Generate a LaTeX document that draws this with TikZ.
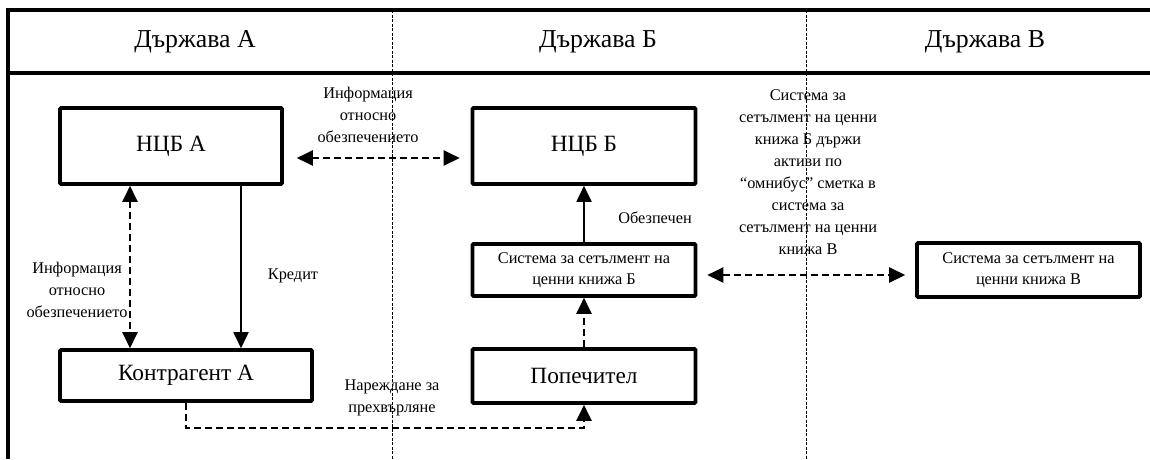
\documentclass[tikz,border=0pt]{standalone}
\usepackage{fontspec}
\setmainfont{Liberation Serif}
\usetikzlibrary{arrows.meta}
\begin{document}
\begin{tikzpicture}[x=1pt,y=-1pt,
  frame/.style={line width=4.2pt},
  sep/.style={line width=0.8pt,dash pattern=on 3pt off 1.5pt},
  box/.style={draw,line width=3.6pt,rounded corners=1pt,align=center,inner sep=0pt},
  tip/.style={-{Triangle[length=16pt,width=15pt]}},
  dtip/.style={{Triangle[length=16pt,width=15pt]}-{Triangle[length=16pt,width=15pt]}},
  dsh/.style={line width=2.3pt,dash pattern=on 7pt off 4pt},
  sol/.style={line width=1.9pt},
  lbl/.style={align=center,font=\fontsize{16.3}{22}\selectfont,inner sep=0pt},
  hdr/.style={font=\fontsize{25.8}{28}\selectfont,inner sep=0pt},
  big/.style={font=\fontsize{23.3}{26}\selectfont},
  small/.style={font=\fontsize{16.3}{21}\selectfont}]
\useasboundingbox (0,0) rectangle (1150,459);
% frame
\coordinate (tl) at (8,10); \coordinate (tr) at (1150,10);
\coordinate (ml) at (8,73); \coordinate (mr) at (1150,73);
\coordinate (bl) at (8,459);
\coordinate (s1t) at (392,10); \coordinate (s1b) at (392,459);
\coordinate (s2t) at (806,10); \coordinate (s2b) at (806,459);
\draw[sep] (s1t) -- (s1b);
\draw[sep] (s2t) -- (s2b);
\draw[frame] (tr) -- (tl) -- (bl);
\draw[frame] (ml) -- (mr);
% headers
\node[hdr] (hA) at (195,42) {Държава А};
\node[hdr] (hB) at (598,42) {Държава Б};
\node[hdr] (hC) at (985,42) {Държава В};
% boxes
\node[box,big,minimum width=222pt,minimum height=76pt] (ncbA) at (171,146) {НЦБ А};
\node[box,big,minimum width=223pt,minimum height=76pt] (ncbB) at (584,146) {НЦБ Б};
\node[box,big,minimum width=252pt,minimum height=51pt] (kontr) at (186,375.5) {Контрагент А};
\node[box,big,minimum width=223pt,minimum height=54pt] (pop) at (584,376) {Попечител};
\node[box,small,minimum width=223pt,minimum height=52pt] (sysB) at (584,270) {Система за сетълмент на\\ценни книжа Б};
\node[box,small,minimum width=223pt,minimum height=54pt] (sysV) at (1028.5,270) {Система за сетълмент на\\ценни книжа В};
% connectors
\draw[dsh,dtip] ([xshift=13pt,yshift=-12pt]ncbA.east) -- ([xshift=-11pt,yshift=-12pt]ncbB.west);
\draw[dsh,dtip] ([xshift=-41pt]ncbA.south) -- ([xshift=-41pt]ncbA.south |- kontr.north);
\draw[sol,tip] ([xshift=70pt]ncbA.south) -- ([xshift=70pt]ncbA.south |- kontr.north);
\draw[dsh,tip] (pop.north) -- (sysB.south);
\draw[sol,tip] (sysB.north) -- (ncbB.south);
\draw[dsh,tip] (kontr.south) -- ++(0,25) -| (pop.south);
\draw[dsh,dtip] ([xshift=10pt,yshift=-5pt]sysB.east) -- ([xshift=-10pt,yshift=-5pt]sysV.west);
% labels
\node[lbl] (l1) at (368,115) {Информация\\относно\\обезпечението};
\node[lbl] (l2) at (77,290) {Информация\\относно\\обезпечението};
\node[lbl] (l3) at (293,276) {Кредит};
\node[lbl] (l4) at (655,218) {Обезпечен};
\node[lbl] (l5) at (392,398) {Нареждане за\\прехвърляне};
\node[lbl] (l6) at (808,172) {Система за\\сетълмент на ценни\\книжа Б държи\\активи по\\“омнибус” сметка в\\система за\\сетълмент на ценни\\книжа В};
\end{tikzpicture}
\end{document}
